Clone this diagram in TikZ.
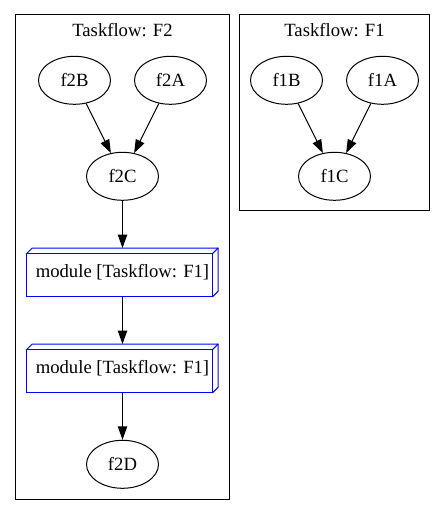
\documentclass[tikz,border=0pt]{standalone}
\usepackage{fontspec}
\setmainfont{Liberation Serif}
\usetikzlibrary{shapes.geometric,arrows.meta}
\begin{document}
\begin{tikzpicture}[x=0.75pt,y=-0.75pt,
  every node/.style={font=\fontsize{14pt}{16pt}\selectfont},
  task/.style={ellipse,draw,line width=0.75pt,minimum width=54pt,minimum height=36pt,inner sep=0pt},
  modbox/.style={rectangle,minimum width=143pt,minimum height=36pt,inner sep=0pt},
  cluster/.style={draw,line width=0.75pt},
  boxline/.style={blue,line width=0.75pt,line join=miter},
  title/.style={anchor=base,inner sep=0pt},
  conn/.style={line width=0.75pt,-{Triangle[length=10pt,width=7pt]}}
]
\useasboundingbox (0,0) rectangle (445,516);
% clusters
\draw[cluster] (15,15) rectangle (229.5,499);
\draw[cluster] (239.5,15) rectangle (429.5,211);
\node[title] (t2) at (122.5,36.7) {Taskflow: F2};
\node[title] (t1) at (334.5,36.7) {Taskflow: F1};
% F2 nodes
\node[task] (f2B) at (74.5,80.3) {f2B};
\node[task] (f2A) at (170.5,80.3) {f2A};
\node[task] (f2C) at (122.5,176.3) {f2C};
\node[modbox] (m1) at (122.5,272.3) {module [Taskflow: F1]};
\node[modbox] (m2) at (122.5,368.3) {module [Taskflow: F1]};
\node[task] (f2D) at (122.5,464.3) {f2D};
% F1 nodes
\node[task] (f1B) at (286.5,80.3) {f1B};
\node[task] (f1A) at (382.5,80.3) {f1A};
\node[task] (f1C) at (334.5,176.3) {f1C};
% 3d boxes
\foreach \m in {m1,m2}{
  \draw[boxline]
    (\m.south west) rectangle ([xshift=-4pt,yshift=-4pt]\m.north east);
  \draw[boxline]
    ([yshift=-4pt]\m.north west) -- ([xshift=4pt]\m.north west) -- (\m.north east)
    -- ([yshift=4pt]\m.south east) -- ([xshift=-4pt]\m.south east);
  \draw[boxline]
    ([xshift=-4pt,yshift=-4pt]\m.north east) -- (\m.north east);
}
% edges
\draw[conn] (f2B) -- (f2C);
\draw[conn] (f2A) -- (f2C);
\draw[conn] (f2C) -- (m1);
\draw[conn] (m1) -- (m2);
\draw[conn] (m2) -- (f2D);
\draw[conn] (f1B) -- (f1C);
\draw[conn] (f1A) -- (f1C);
\end{tikzpicture}
\end{document}
